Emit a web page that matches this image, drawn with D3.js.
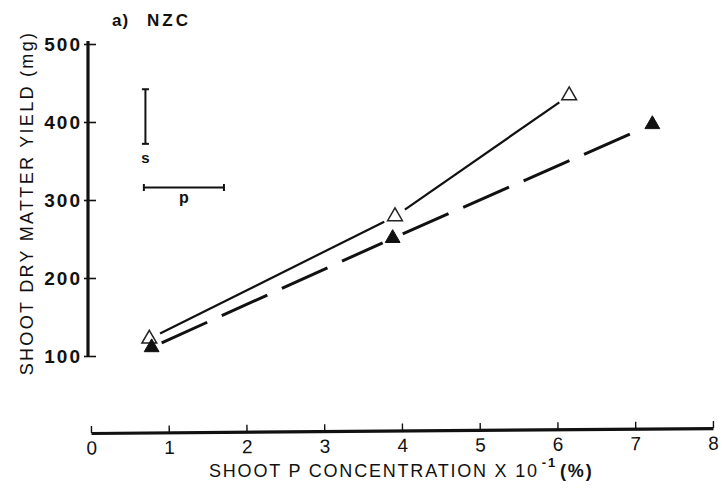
<!DOCTYPE html>
<html><head><meta charset="utf-8">
<script src="https://cdn.jsdelivr.net/npm/d3@7"></script>
<style>
html,body{margin:0;padding:0;background:#fff;}
svg{display:block;}
text{font-family:"Liberation Sans",Arial,Helvetica,sans-serif;fill:#111;}
</style></head>
<body>
<svg id="chart" width="722" height="491"></svg>
<script>
// ---- data ----
const openX = [0.75, 3.91, 6.15];          // open triangles (solid line)
const openY = [122, 279, 434];
const filledX = [0.78, 3.88, 7.22];        // filled triangles (dashed line)
const filledY = [111, 251, 397];
const xTicks = [0,1,2,3,4,5,6,7,8];
const yTicks = [100,200,300,400,500];
const sBar = {x: 0.7, y0: 372, y1: 442, label: "s"};
const pBar = {y: 316, x0: 0.68, x1: 1.71, label: "p"};
const titleA = "a)";
const titleB = "NZC";
const yTitle = "SHOOT DRY MATTER YIELD (mg)";

const svg = d3.select("#chart");
const x = d3.scaleLinear().domain([0,8]).range([91,713]);
const y = d3.scaleLinear().domain([100,500]).range([356,44]);
const ink = "#111";

// ---- y axis ----
const yAx = svg.append("g").attr("transform","translate(88,0)")
  .call(d3.axisLeft(y).tickValues(yTicks).tickSizeInner(-8).tickSizeOuter(0).tickPadding(5));
yAx.select(".domain").attr("stroke",ink).attr("stroke-width",3.2).attr("d",`M0,${y(500)-3}V${y(100)+1}`);
yAx.selectAll(".tick line").attr("stroke",ink).attr("stroke-width",1.6).attr("x1",-4);
yAx.selectAll(".tick text").attr("font-size",19).attr("font-weight","bold").attr("fill",ink)
  .attr("font-family","'Liberation Sans',Arial,sans-serif").attr("letter-spacing",2).attr("dx",-1);

// ---- x axis (slightly skewed like the scan) ----
const xAx = svg.append("g").attr("transform","translate(0,433) rotate(-0.45,91,0)")
  .call(d3.axisBottom(x).tickValues(xTicks).tickSizeInner(-7).tickSizeOuter(0).tickPadding(8));
xAx.select(".domain").attr("stroke",ink).attr("stroke-width",3.2);
xAx.selectAll(".tick line").attr("stroke",ink).attr("stroke-width",1.4);
xAx.selectAll(".tick text").attr("font-size",19).attr("fill",ink)
  .attr("font-family","'Liberation Sans',Arial,sans-serif");

// ---- titles ----
svg.append("text").attr("x",112).attr("y",26).attr("font-size",17).attr("font-weight","bold")
  .attr("letter-spacing",1).text(titleA);
svg.append("text").attr("x",147).attr("y",26).attr("font-size",17).attr("font-weight","bold")
  .attr("letter-spacing",3).text(titleB);
svg.append("text").attr("transform","translate(33,203) rotate(-90)").attr("text-anchor","middle")
  .attr("font-size",18).attr("letter-spacing",2.3).text(yTitle);
const xt = svg.append("text").attr("x",209).attr("y",477).attr("text-anchor","start")
  .attr("font-size",18).attr("letter-spacing",1.8);
xt.append("tspan").text("SHOOT P CONCENTRATION X 10");
xt.append("tspan").attr("dy",-10).attr("dx",3).attr("font-size",13).attr("font-weight","bold").text("-1");
xt.append("tspan").attr("dy",10).attr("dx",3).attr("font-weight","bold").text("(%)");

// ---- lines with gaps around markers ----
function segs(xs, ys, gap){
  const out=[];
  for(let i=0;i<xs.length-1;i++){
    const x0=x(xs[i]),y0=y(ys[i]),x1=x(xs[i+1]),y1=y(ys[i+1]);
    const dx=x1-x0,dy=y1-y0,L=Math.hypot(dx,dy);
    const ux=dx/L,uy=dy/L;
    out.push([x0+ux*gap,y0+uy*gap,x1-ux*gap,y1-uy*gap]);
  }
  return out;
}
svg.append("g").selectAll("line").data(segs(openX,openY,12)).join("line")
  .attr("x1",d=>d[0]).attr("y1",d=>d[1]).attr("x2",d=>d[2]).attr("y2",d=>d[3])
  .attr("stroke",ink).attr("stroke-width",2.2);
svg.append("g").selectAll("line").data(segs(filledX,filledY,11)).join("line")
  .attr("x1",d=>d[0]).attr("y1",d=>d[1]).attr("x2",d=>d[2]).attr("y2",d=>d[3])
  .attr("stroke",ink).attr("stroke-width",3).attr("stroke-dasharray","50,16");

// ---- markers ----
const tri = d3.symbol().type(d3.symbolTriangle).size(95);
svg.append("g").selectAll("path").data(openX.map((v,i)=>[v,openY[i]])).join("path")
  .attr("d",tri).attr("transform",d=>`translate(${x(d[0])},${y(d[1])})`)
  .attr("fill","#fff").attr("stroke","#222").attr("stroke-width",1.5);
svg.append("g").selectAll("path").data(filledX.map((v,i)=>[v,filledY[i]])).join("path")
  .attr("d",tri).attr("transform",d=>`translate(${x(d[0])},${y(d[1])})`)
  .attr("fill",ink).attr("stroke",ink).attr("stroke-width",1);

// ---- error-bar key ----
const g = svg.append("g").attr("stroke",ink).attr("stroke-width",2);
const sx=x(sBar.x);
g.append("line").attr("x1",sx).attr("x2",sx).attr("y1",y(sBar.y0)).attr("y2",y(sBar.y1));
g.append("line").attr("x1",sx-3.5).attr("x2",sx+3.5).attr("y1",y(sBar.y0)).attr("y2",y(sBar.y0));
g.append("line").attr("x1",sx-3.5).attr("x2",sx+3.5).attr("y1",y(sBar.y1)).attr("y2",y(sBar.y1));
svg.append("text").attr("x",sx).attr("y",y(sBar.y0)+19).attr("text-anchor","middle")
  .attr("font-size",15).attr("font-weight","bold").text(sBar.label);
const py=y(pBar.y);
g.append("line").attr("x1",x(pBar.x0)).attr("x2",x(pBar.x1)).attr("y1",py).attr("y2",py);
g.append("line").attr("x1",x(pBar.x0)).attr("x2",x(pBar.x0)).attr("y1",py-3.5).attr("y2",py+3.5);
g.append("line").attr("x1",x(pBar.x1)).attr("x2",x(pBar.x1)).attr("y1",py-3.5).attr("y2",py+3.5);
svg.append("text").attr("x",(x(pBar.x0)+x(pBar.x1))/2).attr("y",py+15).attr("text-anchor","middle")
  .attr("font-size",16).attr("font-weight","bold").text(pBar.label);
</script>
</body></html>
